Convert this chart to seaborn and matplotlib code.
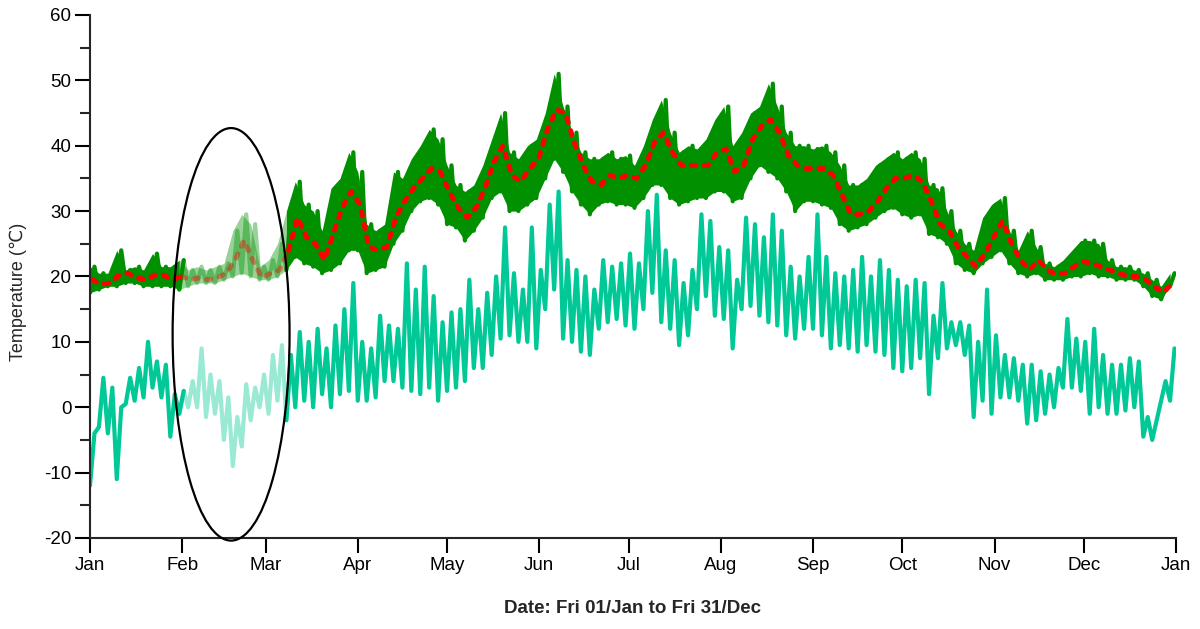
import numpy as np
import pandas as pd
import matplotlib
matplotlib.use("Agg")
import matplotlib.pyplot as plt
import matplotlib.dates as mdates
from matplotlib.ticker import MultipleLocator
from matplotlib.patches import Ellipse
import seaborn as sns

# readings every 3 days, 1 Jan 2021 -> 31 Dec 2021 (daily low / daily high)
green_lo = [17.5, 18, 18.5, 18.5, 19, 19, 18.5, 18.5, 18.5, 18.5, 18,
            18.5, 19, 19, 19, 19.5, 20, 20.5, 20, 19.5,
            19.5, 20, 21, 23, 22, 21.5, 20.5, 21, 22, 24,
            24, 20.5, 21, 21.5, 25, 27, 30, 31.5, 32, 31,
            28, 27.5, 25.5, 27, 29, 32, 33, 30, 30, 31,
            32, 35, 38, 36, 33, 31, 29.5, 31, 31.5, 31,
            31, 30.5, 32, 34, 34, 32, 31, 31.5, 32, 32,
            33, 33, 31.5, 32, 35, 37, 36, 35, 33, 30,
            31.5, 31.5, 31, 30.5, 28, 27, 27.5, 28, 29, 30,
            30.5, 29.5, 29, 29.5, 26.5, 26, 25, 22, 21, 20.5,
            22, 23, 24, 22, 20.5, 20, 20.5, 19.5, 19.5, 19.5,
            20, 20, 20.5, 20, 20, 19.5, 19.5, 19.5, 18.5, 17,
            16.5, 18.5]
green_hi = [21.5, 20.5, 20.5, 24, 21, 21.5, 21, 23.5, 21.5, 21.5, 22.5,
            21, 21.5, 21, 21.5, 22, 27, 29.5, 28, 21.5,
            22.5, 25, 30, 34.5, 31, 30, 27, 33.5, 35, 39,
            36, 28, 27, 28, 36, 35, 38, 40, 42.5, 41,
            37, 34, 33, 34, 37, 41, 45, 39, 38, 40,
            41, 45, 51, 46, 42, 39, 38, 38, 39, 38,
            38.5, 37, 40, 44, 47, 42, 39, 40, 39.5, 41,
            44, 46, 40, 42, 45, 46, 49.5, 46, 42, 40,
            40, 39.5, 40, 39, 37, 34, 34, 35, 37, 38,
            39, 38, 39, 38, 34, 33.5, 30, 27, 25, 24,
            29, 31, 32, 27, 24, 27, 24.5, 22, 21.5, 22.5,
            24, 25.5, 25.5, 25, 22.5, 21.5, 21.5, 21, 20.5, 19.5,
            18.5, 20.5]
red_avg = [19.5, 18.8, 19, 20.2, 20.5, 19.8, 19.5, 20.2, 20.2, 19.5, 20,
           19.5, 19.8, 19.5, 19.8, 20.5, 22.5, 25.5, 22.5, 19.8,
           20.5, 21, 24, 29, 26, 25, 22.5, 26.5, 30.5, 33,
           31, 24.5, 24, 24.5, 29, 31.5, 33.5, 35, 36.5, 36,
           33, 30.5, 29, 30.5, 33.5, 37.5, 40, 35.5, 34.5, 36.5,
           38, 42.5, 45.5, 45, 40.5, 37, 34.5, 34, 35.5, 35,
           35.5, 35, 37, 40.5, 42, 39, 37, 37, 37, 37,
           39, 39.5, 36, 37, 41, 43, 44, 42, 38.5, 37,
           36.5, 36.5, 36.5, 35.5, 32.5, 29.5, 29.5, 30, 31.5, 33.5,
           35, 35, 35.5, 34.5, 31.5, 28, 27, 24.5, 23, 21.5,
           23.5, 26, 28.5, 25, 22.5, 21, 22.5, 21, 20.3, 20.5,
           21.5, 22.3, 22, 21.5, 21, 20.5, 20, 20, 19.5, 18.5,
           17.5, 19]
teal_lo = [-12, -3, -4, -11, 0.5, 1, 1.5, 3, 1.5, -4.5, -1,
           0, 0, -1.5, -1, -5, -9, -6, -2, 0,
           -1, 1, -2, 0, 1, 0, 2, 0, 2, 2.5,
           1, 1, 1.5, 4, 4, 3, 2.5, 2, 3, 1,
           2.5, 3, 4, 6, 6, 8, 10.5, 11, 10, 10,
           9, 15, 18, 10.5, 10, 8.5, 8, 12, 13, 13.5,
           12.5, 12, 15, 17.5, 13, 12, 9.5, 11, 15, 17,
           14, 13.5, 9, 15, 15.5, 14, 13, 12.5, 11, 10.5,
           12, 12, 11, 9, 9.5, 9, 8.5, 9.5, 8.5, 8,
           6, 5.5, 6, 7.5, 2, 7.5, 9, 9.5, 8, -1.5,
           1, -1, 1.5, 1.5, 1, -2.5, -2, -1, 0, 3,
           3, 2.5, -1, 0, -1, -1, -0.5, 0, -4.5, -5,
           1, 1]
teal_hi = [-4, 4.5, 3, 0, 4.5, 6, 10, 7, 6.5, 2, 2.5,
           4, 9, 5, 4, 1.5, -1.5, 3.5, 3, 5,
           8, 9.5, 8, 11.5, 10, 12, 9, 12.5, 15, 19,
           10, 9, 14, 12.5, 12, 22, 18, 21.5, 17, 13,
           14.5, 15, 19.5, 15, 17.5, 20, 27.5, 20.5, 18, 27.5,
           21, 31, 33, 22.5, 21, 20, 18, 22.5, 21.5, 22,
           23.5, 22, 30, 32.5, 24, 22.5, 19, 21, 29.5, 28.5,
           24.5, 24, 19.5, 29, 28, 26, 29.5, 27, 21.5, 20,
           23, 29.5, 23, 20.5, 20, 21, 23, 20, 22.5, 21,
           19.5, 18.5, 19.5, 19, 14, 19, 13, 13, 12.5, 10,
           18, 11, 8, 7.5, 6.5, 6.5, 5.5, 5, 6, 13.5,
           10.5, 10, 12, 8, 6.5, 6.5, 7.5, 7, -1.5, -2,
           4, 9]

month_labels = ["Jan", "Feb", "Mar", "Apr", "May", "Jun", "Jul",
                "Aug", "Sep", "Oct", "Nov", "Dec", "Jan"]

start = pd.Timestamp("2021-01-01")
end = pd.Timestamp("2022-01-01")
sample_day = np.arange(len(green_lo)) * 3.0

GREEN = "#009000"
RED = "#ff0000"
TEAL = "#00c896"

sns.set_style("ticks")
plt.rcParams["font.family"] = ["Liberation Sans", "DejaVu Sans"]
plt.rcParams["axes.unicode_minus"] = False

fig = plt.figure(figsize=(12, 6.29), dpi=100)
ax = fig.add_axes([0.075, 0.1447, 0.905, 0.8315])

# Feb .. early Mar is drawn faded, the rest solid
PARTS = [(None, 31.5, 1.0), (30, 67.5, 0.4), (66, None, 1.0)]


def in_part(t, lo_d, hi_d):
    m = np.ones(len(t), bool)
    if lo_d is not None:
        m &= t >= lo_d
    if hi_d is not None:
        m &= t <= hi_d
    return m


def to_dates(t):
    return start + pd.to_timedelta(t, unit="D")


def draw_line(t, v, color, lw, **kw):
    for lo_d, hi_d, alpha in PARTS:
        m = in_part(t, lo_d, hi_d)
        d = pd.DataFrame({"date": to_dates(t[m]), "temp": v[m]})
        sns.lineplot(data=d, x="date", y="temp", color=color, lw=lw,
                     alpha=alpha, sort=False, estimator=None, ax=ax, **kw)


def draw_swing(lo, hi, color, filled):
    lo = np.asarray(lo, float)
    hi = np.asarray(hi, float)
    if filled:
        # solid band between daily lows and highs
        for lo_d, hi_d, alpha in PARTS:
            m = in_part(sample_day, lo_d, hi_d)
            ax.fill_between(to_dates(sample_day[m]), lo[m], hi[m],
                            color=color, alpha=alpha, lw=0)
    # daily swing drawn as a zigzag line
    t = np.column_stack([sample_day, sample_day + 1.5]).ravel()
    v = np.column_stack([lo, hi]).ravel()
    draw_line(t, v, color, 3.0)


draw_swing(green_lo, green_hi, GREEN, True)
draw_line(sample_day + 0.75, np.array(red_avg, float), RED, 3.6,
          linestyle=(0, (0.9, 1.7)), dash_capstyle="round")
draw_swing(teal_lo, teal_hi, TEAL, False)

# highlight ellipse round the faded part
cx = mdates.date2num(pd.Timestamp("2021-02-17 10:00"))
ax.add_patch(Ellipse((cx, 11.15), 39.3, 63.1, fill=False, ec="black",
                     lw=1.6, clip_on=False, zorder=5))

ax.set_xlim(start, end)
ax.set_ylim(-20, 60)
ax.set_yticks(range(-20, 61, 10))
ax.yaxis.set_minor_locator(MultipleLocator(5))
ax.set_xticks(pd.date_range(start, end, freq="MS"))
ax.set_xticklabels(month_labels)

sns.despine(ax=ax)
for s in ["left", "bottom"]:
    ax.spines[s].set_linewidth(1.5)
ax.tick_params(which="major", direction="out", length=10.5, width=1.5,
               labelsize=13.5, colors="black", pad=3)
ax.tick_params(axis="y", which="minor", direction="out", length=7, width=1.5)

ax.set_xlabel("Date: Fri 01/Jan to Fri 31/Dec", fontsize=13.5,
              fontweight="bold", labelpad=19)
ax.set_ylabel("Temperature (\u2103)", fontsize=13)
ax.yaxis.set_label_coords(-0.058, 0.47)

fig.savefig("out.png", dpi=100)
